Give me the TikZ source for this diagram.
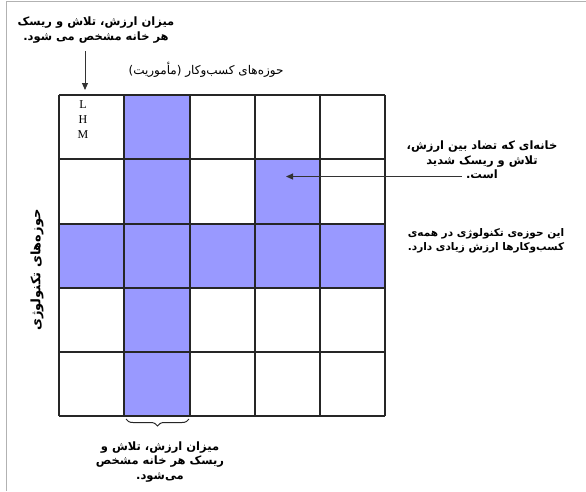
\documentclass[tikz,border=0pt]{standalone}
\usepackage{fontspec}
\usetikzlibrary{decorations.pathreplacing,arrows.meta}
\newfontfamily\arabicfont[Script=Arabic]{DejaVu Sans}
\setmainfont{Liberation Serif}
\TeXXeTstate=1
\definecolor{cellblue}{HTML}{9999FF}
\tikzset{
  gridline/.style={draw=black!85, line width=1.3pt},
  note/.style={font=\arabicfont\bfseries\fontsize{11.5}{14.5}\selectfont, align=center, inner sep=0pt},
  lbl/.style={font=\fontsize{12}{15}\selectfont, inner sep=0pt},
  pointer/.style={draw=black!80, line width=0.9pt, -{Triangle[length=7pt,width=6pt]}},
}
\begin{document}
\begin{tikzpicture}[x=1pt,y=-1pt]
\useasboundingbox (0,0) rectangle (586,491);
\fill[white] (0,0) rectangle (586,491);
\draw[black!30, line width=1pt] (6.5,491) -- (6.5,1) -- (586,1);
% colored cells
\fill[cellblue] (124,95) rectangle (190,416);
\fill[cellblue] (59,224) rectangle (385,288);
\fill[cellblue] (255,159) rectangle (320,224);
% grid
\foreach \x in {59,124,190,255,320,385} \draw[gridline] (\x,95) -- (\x,416);
\foreach \y in {95,159,224,288,352,416} \draw[gridline] (59,\y) -- (385,\y);
\node[lbl] (L) at (83,105) {L};
\node[lbl] (H) at (83,120) {H};
\node[lbl] (M) at (83,135) {M};
% texts
\node[note] (tl) at (96,30) {\beginR میزان ارزش، تلاش و ریسک\endR\\\beginR هر خانه مشخص می شود.\endR};
\coordinate (tlend) at (85,90);
\draw[pointer] (85,51) -- (tlend);
\node[font=\arabicfont\fontsize{12}{14}\selectfont, inner sep=0pt] (title) at (206,70) {\beginR حوزه‌های کسب‌وکار (مأموریت)\endR};
\node[note] (conf) at (482,160) {\beginR خانه‌ای که تضاد بین ارزش،\endR\\\beginR تلاش و ریسک شدید\endR\\\beginR است.\endR};
\coordinate (confstart) at (462,176.5);
\coordinate (conftip) at (286,176.5);
\draw[pointer] (confstart) -- (conftip);
\node[note, font=\arabicfont\bfseries\fontsize{10.5}{13.5}\selectfont] (tech) at (486,241) {\beginR این حوزه‌ی تکنولوژی در همه‌ی\endR\\\beginR کسب‌وکارها ارزش زیادی دارد.\endR};
\node[font=\arabicfont\bfseries\fontsize{13}{15}\selectfont, inner sep=0pt, rotate=90] (side) at (37,270) {\beginR حوزه‌های تکنولوژی\endR};
\coordinate (bra) at (126,419);
\coordinate (brb) at (189,419);
\draw[black!85, line width=1pt, decorate, decoration={brace, amplitude=7pt, mirror}] (bra) -- (brb);
\node[note] (bottom) at (160,462) {\beginR میزان ارزش، تلاش و\endR\\\beginR ریسک هر خانه مشخص\endR\\\beginR می‌شود.\endR};
\end{tikzpicture}
\end{document}
